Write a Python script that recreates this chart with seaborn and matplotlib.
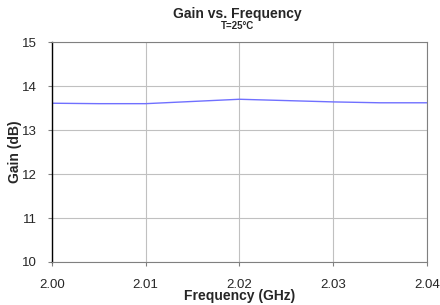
import numpy as np
import pandas as pd
import matplotlib
matplotlib.use("Agg")
import matplotlib.pyplot as plt
import seaborn as sns

freq = [2.000, 2.005, 2.010, 2.015, 2.020, 2.025, 2.030, 2.035, 2.040]
gain = [13.61, 13.60, 13.60, 13.65, 13.70, 13.67, 13.64, 13.62, 13.62]

xticks = [2.00, 2.01, 2.02, 2.03, 2.04]
xticklabels = ["2.00", "2.01", "2.02", "2.03", "2.04"]
yticks = [10, 11, 12, 13, 14, 15]

sns.set_style("white")
plt.rcParams["font.family"] = ["Liberation Sans", "DejaVu Sans"]

df = pd.DataFrame({"freq": freq, "gain": gain})

fig = plt.figure(figsize=(4.4, 3.05), dpi=100)
ax = fig.add_axes([0.118, 0.141, 0.852, 0.721])

sns.lineplot(data=df, x="freq", y="gain", ax=ax, color="#7070ff", linewidth=1.0)

ax.set_xlim(2.00, 2.04)
ax.set_ylim(10, 15)
ax.set_xticks(xticks)
ax.set_xticklabels(xticklabels)
ax.set_yticks(yticks)
ax.grid(True, color="#c0c0c0", linewidth=0.8)
ax.tick_params(axis="both", labelsize=9.5, direction="out", length=3,
               width=0.8, color="#808080", left=True, bottom=True)
ax.tick_params(axis="x", pad=9)
ax.tick_params(axis="y", pad=8)

for side in ["top", "right", "bottom"]:
    ax.spines[side].set_color("#808080")
    ax.spines[side].set_linewidth(0.8)
ax.spines["left"].set_color("black")
ax.spines["left"].set_linewidth(1.0)

ax.set_xlabel("Frequency (GHz)", fontsize=10, fontweight="bold", labelpad=-1)
ax.set_ylabel("Gain (dB)", fontsize=10, fontweight="bold", labelpad=0)

fig.text(0.54, 0.955, "Gain vs. Frequency", ha="center", va="center",
         fontsize=10, fontweight="bold")
fig.text(0.54, 0.915, "T=25°C", ha="center", va="center",
         fontsize=7, fontweight="bold")

fig.savefig("out.png", dpi=100)
